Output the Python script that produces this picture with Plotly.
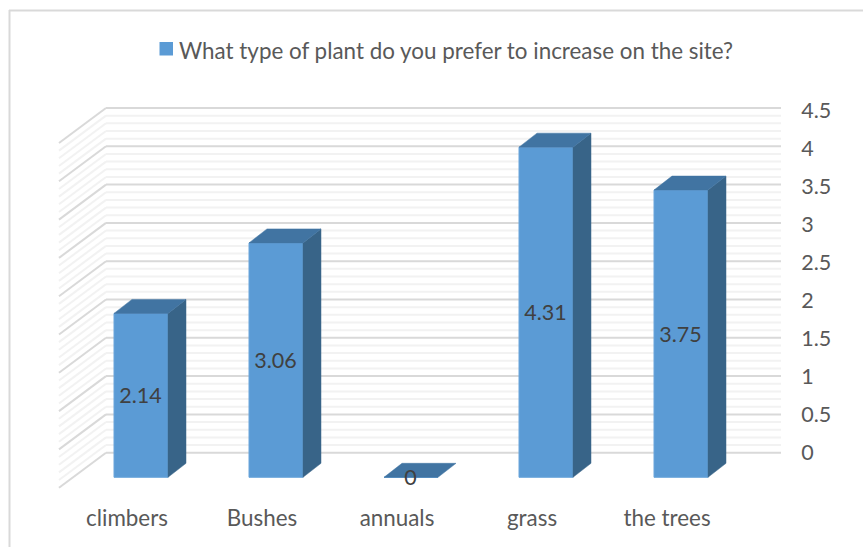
import plotly.graph_objects as go

categories = ["climbers", "Bushes", "annuals", "grass", "the trees"]
values = [2.14, 3.06, 0, 4.31, 3.75]
value_ticks = [0, 0.5, 1, 1.5, 2, 2.5, 3, 3.5, 4, 4.5]
value_tick_labels = ["0", "0.5", "1", "1.5", "2", "2.5", "3", "3.5", "4", "4.5"]
series_name = "What type of plant do you prefer to increase on the site?"

W, H = 863, 547
L, R, T, B = 50, 73, 95, 47
PX_X, PX_Y = 135.0, 76.6
X0_PX, Y0_PX = 141.0, 452.7
x_range = [(L - X0_PX) / PX_X, (W - R - X0_PX) / PX_X]
y_range = [(Y0_PX - (H - B)) / PX_Y, (Y0_PX - T) / PX_Y]

dx = lambda p: p / PX_X
dy = lambda p: p / PX_Y

FONT = "Lato"
TXT = "#595959"
FRONT, SIDE, TOP = "#5B9BD5", "#386488", "#4174A2"
BASE = -dy(24.6)
HALF = 27 / PX_X
DEPTH_X, DEPTH_Y = dx(18), dy(14)
WALL_LEFT, WALL_RIGHT = dx(106 - X0_PX), dx(781 - X0_PX)
FLOOR_X, FLOOR_Y = dx(59 - X0_PX), -dy(35)
LABEL_SCALE = 76.0 / PX_Y

shapes = []
for k in range(46):
    v = k / 10
    major = k % 5 == 0
    style = dict(color="#D9D9D9" if major else "#F2F2F2", width=2)
    for a, b in (((FLOOR_X, v + FLOOR_Y), (WALL_LEFT, v)), ((WALL_LEFT, v), (WALL_RIGHT, v))):
        shapes.append(dict(type="line", xref="x", yref="y", x0=a[0], y0=a[1], x1=b[0], y1=b[1],
                           line=style, layer="below"))


def paper_x(p):
    return (p - L) / (W - L - R)


def paper_y(p):
    return (H - B - p) / (H - T - B)


shapes += [
    dict(type="line", xref="paper", yref="paper", x0=paper_x(9), x1=paper_x(863),
         y0=paper_y(10.5), y1=paper_y(10.5), line=dict(color="#D9D9D9", width=2)),
    dict(type="line", xref="paper", yref="paper", x0=paper_x(9.5), x1=paper_x(9.5),
         y0=paper_y(10), y1=paper_y(547), line=dict(color="#D9D9D9", width=2)),
    dict(type="rect", xref="paper", yref="paper", x0=paper_x(159.5), x1=paper_x(173),
         y0=paper_y(42), y1=paper_y(55.5), fillcolor=FRONT, line=dict(width=0)),
]

fig = go.Figure()
xs = list(range(len(categories)))
fig.add_trace(go.Bar(x=xs, y=values, base=BASE, width=2 * HALF, name=series_name,
                     marker=dict(color=FRONT, line=dict(color="#6AA5DB", width=1)),
                     showlegend=False, hoverinfo="skip"))

for i, v in zip(xs, values):
    r = i + HALF
    l = i - HALF
    top = v + BASE
    if v > 0:
        fig.add_trace(go.Scatter(
            x=[r, r + DEPTH_X, r + DEPTH_X, r, r],
            y=[BASE, BASE + DEPTH_Y, top + DEPTH_Y, top, BASE],
            mode="lines", fill="toself", fillcolor=SIDE, line=dict(color=SIDE, width=0.5),
            showlegend=False, hoverinfo="skip"))
    fig.add_trace(go.Scatter(
        x=[l, r, r + DEPTH_X, l + DEPTH_X, l],
        y=[top, top, top + DEPTH_Y, top + DEPTH_Y, top],
        mode="lines", fill="toself", fillcolor=TOP, line=dict(color=TOP, width=0.5),
        showlegend=False, hoverinfo="skip"))

fig.add_trace(go.Scatter(
    x=[i - dx(0.5) for i in xs], y=[BASE + v / 2 - dy(2.5) for v in values],
    text=[f"{v:g}" for v in values], mode="text", textposition="middle center",
    textfont=dict(family=FONT, size=21.5, color="#404040"),
    showlegend=False, hoverinfo="skip"))

fig.add_annotation(xref="paper", yref="paper", x=paper_x(177), y=paper_y(50.5),
                   xanchor="left", yanchor="middle", text=series_name, showarrow=False,
                   font=dict(family=FONT, size=22.4, color=TXT))

fig.update_layout(
    width=W, height=H, margin=dict(l=L, r=R, t=T, b=B),
    paper_bgcolor="white", plot_bgcolor="white", shapes=shapes, showlegend=False,
    xaxis=dict(range=x_range, tickvals=[i - dx(14) for i in xs], ticktext=categories,
               showgrid=False, zeroline=False, showline=False, ticks="", ticklabelstandoff=3,
               tickfont=dict(family=FONT, size=22.4, color=TXT)),
    yaxis=dict(range=y_range, side="right", tickvals=[v * LABEL_SCALE for v in value_ticks],
               ticktext=value_tick_labels,
               showgrid=False, zeroline=False, showline=False, ticks="outside", ticklen=6,
               tickcolor="rgba(0,0,0,0)", tickfont=dict(family=FONT, size=21.5, color=TXT)),
)

fig.write_html("out.html", post_script="document.body.style.margin='0';",
               config={"displayModeBar": False})
